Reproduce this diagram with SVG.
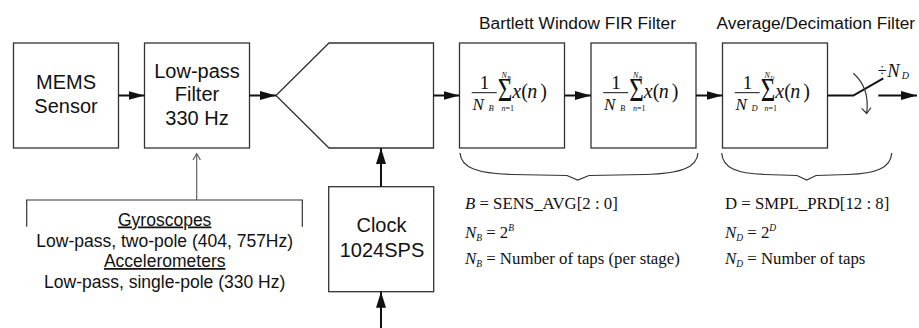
<svg xmlns="http://www.w3.org/2000/svg" width="919" height="328" viewBox="0 0 919 328">
<defs>
<style>
.box{fill:#fff;stroke:#333;stroke-width:1.3}
.sans{font-family:"Liberation Sans",Arial,sans-serif;fill:#111}
.lbl{font-size:20px;text-anchor:middle}
.ttl{font-size:17.3px;text-anchor:middle}
.note{font-size:17.5px;text-anchor:middle}
.m{font-family:"Liberation Serif","Times New Roman",serif;fill:#111}
.i{font-style:italic}
.wire{stroke:#111;stroke-width:2;fill:none}
.thin{stroke:#333;stroke-width:1.2;fill:none}
</style>
<marker id="ah" markerUnits="userSpaceOnUse" markerWidth="16" markerHeight="10" refX="16" refY="5" orient="auto">
<path d="M0,0.5 L16,5 L0,9.5 Z" fill="#111"/>
</marker>
<marker id="av" markerUnits="userSpaceOnUse" markerWidth="16" markerHeight="11" refX="16" refY="5.5" orient="auto">
<path d="M0,0.5 L16,5.5 L0,10.5 Z" fill="#111"/>
</marker>
<g id="sumB">
<text x="484.5" y="89" class="m" font-size="19" text-anchor="middle">1</text>
<line x1="471.7" y1="92.7" x2="496.7" y2="92.7" stroke="#111" stroke-width="1"/>
<text x="472.5" y="109.5" class="m i" font-size="17">N</text>
<text x="505" y="100.6" class="m" font-size="25" text-anchor="middle" transform="translate(505,100.6) scale(1,1.32) translate(-505,-100.6)">Σ</text>
<text y="98.3" class="m" font-size="20"><tspan class="i" x="512.3">x</tspan><tspan x="521.3">(</tspan><tspan class="i" x="527.3">n</tspan><tspan x="540.3">)</tspan></text>
<text y="110.5" class="m" font-size="8"><tspan class="i" x="501.5">n</tspan>=1</text>
</g>
</defs>

<g id="titles" class="sans">
<text class="ttl" x="577.5" y="29">Bartlett Window FIR Filter</text>
<text class="ttl" x="815.8" y="29">Average/Decimation Filter</text>
</g>

<g id="mems">
<rect class="box" x="13.5" y="43" width="105" height="105"/>
<text class="sans lbl" x="66" y="89.3">MEMS</text>
<text class="sans lbl" x="66" y="113.3">Sensor</text>
</g>

<g id="lpf">
<rect class="box" x="144.5" y="43" width="105" height="105"/>
<text class="sans lbl" x="197" y="77.5">Low-pass</text>
<text class="sans lbl" x="197" y="100.5">Filter</text>
<text class="sans lbl" x="197" y="125">330 Hz</text>
</g>

<g id="adc">
<polygon class="box" points="276,95.5 329,43 433.5,43 433.5,148 329,148"/>
</g>

<g id="clock">
<rect class="box" x="328.7" y="186.7" width="105" height="105"/>
<text class="sans lbl" x="381.5" y="232">Clock</text>
<text class="sans lbl" x="382" y="257">1024SPS</text>
</g>

<g id="fir1">
<rect class="box" x="459.5" y="43" width="105" height="105"/>
<use href="#sumB"/>
<text x="488.5" y="111" class="m i" font-size="8.5">B</text>
<text x="501.5" y="78.3" class="m i" font-size="8">N</text>
<text x="507.2" y="79.8" class="m i" font-size="5.5">B</text>
</g>

<g id="fir2">
<rect class="box" x="591" y="43" width="105" height="105"/>
<use href="#sumB" transform="translate(131.5,0)"/>
<text x="620" y="111" class="m i" font-size="8.5">B</text>
<text x="633" y="78.3" class="m i" font-size="8">N</text>
<text x="638.7" y="79.8" class="m i" font-size="5.5">B</text>
</g>

<g id="avg">
<rect class="box" x="722.5" y="43" width="105" height="105"/>
<use href="#sumB" transform="translate(263,0)"/>
<text x="751.5" y="111" class="m i" font-size="8.5">D</text>
<text x="764.5" y="78.3" class="m i" font-size="8">N</text>
<text x="770.2" y="79.8" class="m i" font-size="5.5">D</text>
</g>

<g id="decimator">
<polyline class="wire" points="827.5,95.5 853.3,95.5 883.3,78.3" stroke-width="1.8"/>
<path class="thin" d="M853.3,73.3 Q870,88 866.7,113"/>
<polyline class="thin" points="861.7,108.3 866.7,113.5 871,107.5"/>
<text x="877.8" y="75.8" class="m" font-size="16">÷</text>
<text x="887.3" y="76.7" class="m i" font-size="18.5">N</text>
<text x="901.8" y="79.3" class="m i" font-size="10">D</text>
</g>

<g id="filter-note">
<polyline class="thin" points="26.7,226.7 26.7,200 302.3,200 302.3,226.7"/>
<text class="sans note" x="164.7" y="225.5" text-decoration="underline">Gyroscopes</text>
<text class="sans note" x="164.7" y="246.5">Low-pass, two-pole (404, 757Hz)</text>
<text class="sans note" x="164.7" y="267" text-decoration="underline">Accelerometers</text>
<text class="sans note" x="164.7" y="288">Low-pass, single-pole (330 Hz)</text>
</g>

<g id="braces">
<path class="thin" d="M460,153 C461,168 478,173.5 512,174.5 L567,175.5 L577.7,180 L589,175.5 L645,174.5 C680,173.5 697,168 698,153"/>
<path class="thin" d="M721.7,153 C722.5,168 737,173.5 765,174.5 L797,175.5 L806.7,180 L816,175.5 L848,174.5 C876,173.5 891,168 891.7,153"/>
</g>

<g id="equations" class="m" font-size="16.8">
<text x="465" y="209.3"><tspan class="i">B</tspan> = SENS_AVG[2 : 0]</text>
<text x="465" y="237.5"><tspan class="i">N</tspan><tspan class="i" font-size="9.5" dy="3">B</tspan><tspan dy="-3"> = 2</tspan><tspan class="i" font-size="9.5" dy="-7">B</tspan></text>
<text x="465" y="264"><tspan class="i">N</tspan><tspan class="i" font-size="9.5" dy="3">B</tspan><tspan dy="-3"> = Number of  taps (per stage)</tspan></text>
<text x="725" y="209.3">D = SMPL_PRD[12 : 8]</text>
<text x="725" y="237.5"><tspan class="i">N</tspan><tspan class="i" font-size="9.5" dy="3">D</tspan><tspan dy="-3"> = 2</tspan><tspan class="i" font-size="9.5" dy="-7">D</tspan></text>
<text x="725" y="264"><tspan class="i">N</tspan><tspan class="i" font-size="9.5" dy="3">D</tspan><tspan dy="-3"> = Number of  taps</tspan></text>
</g>

<g id="connectors">
<line class="wire" x1="118.5" y1="95.5" x2="144.5" y2="95.5" marker-end="url(#ah)"/>
<line class="wire" x1="249.5" y1="95.5" x2="276" y2="95.5" marker-end="url(#ah)"/>
<line class="wire" x1="433.5" y1="95.5" x2="459.5" y2="95.5" marker-end="url(#ah)"/>
<line class="wire" x1="564.5" y1="95.5" x2="591" y2="95.5" marker-end="url(#ah)"/>
<line class="wire" x1="696" y1="95.5" x2="722.5" y2="95.5" marker-end="url(#ah)"/>
<line class="wire" x1="878.3" y1="95.5" x2="917" y2="95.5" marker-end="url(#ah)"/>
<line class="wire" x1="381" y1="186.7" x2="381" y2="148" stroke-width="1.8" marker-end="url(#av)"/>
<line class="wire" x1="381" y1="328" x2="381" y2="291.7" stroke-width="1.8" marker-end="url(#av)"/>
<line x1="196.7" y1="200" x2="196.7" y2="154" stroke="#555" stroke-width="1.1"/>
<polyline points="193,160 196.7,153.5 200.4,160" fill="none" stroke="#555" stroke-width="1.1"/>
</g>
</svg>
